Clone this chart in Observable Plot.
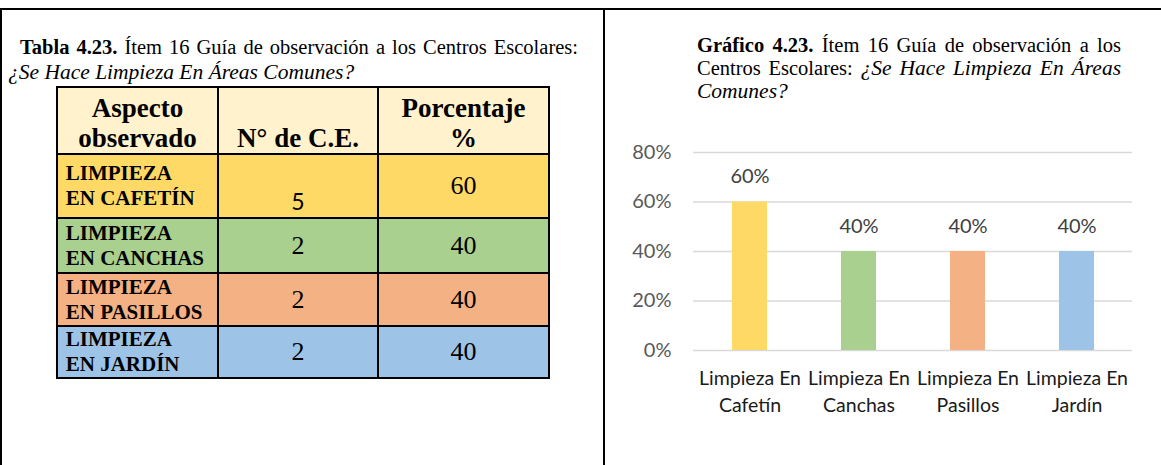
<!DOCTYPE html>
<html>
<head>
<meta charset="utf-8">
<script src="https://cdn.jsdelivr.net/npm/d3@7"></script>
<script src="https://cdn.jsdelivr.net/npm/@observablehq/plot@0.6"></script>
<style>
  html, body { margin: 0; padding: 0; background: #fff; }
  #page { position: relative; width: 1161px; height: 465px; overflow: hidden; background: #fff; }
  .line { position: absolute; background: #000; }
  .t { position: absolute; font-family: "Liberation Serif", "Times New Roman", serif; font-size: 20.5px; line-height: 24px; color: #000; white-space: nowrap; }
  .t i { font-size: 21.5px; }
  .j { text-align: justify; text-align-last: justify; white-space: normal; }
  .cell { position: absolute; box-sizing: border-box; border: 2.5px solid #000; display: flex; font-family: "Liberation Serif", "Times New Roman", serif; color: #000; }
  .hdr { background: #FFF2CC; font-weight: bold; font-size: 27px; line-height: 30px; justify-content: center; align-items: flex-end; text-align: center; }
  .lab { font-weight: bold; font-size: 21px; line-height: 25px; align-items: center; padding-left: 8px; }
  .num { font-size: 26px; justify-content: center; align-items: center; }
  #chart { position: absolute; left: 605px; top: 130px; }
</style>
</head>
<body>
<div id="page">
  <div class="line" style="left:0;top:8px;width:1161px;height:2px;"></div>
  <div class="line" style="left:0;top:8px;width:2px;height:457px;"></div>
  <div class="line" style="left:603px;top:8px;width:2px;height:457px;"></div>

  <div class="t j" style="left:20px;top:35px;width:558px;"><b>Tabla 4.23.</b> Ítem 16 Guía de observación a los Centros Escolares:</div>
  <div class="t" style="left:8px;top:60px;"><i>¿Se Hace Limpieza En Áreas Comunes?</i></div>

  <div class="t j" style="left:697px;top:33px;width:424px;"><b>Gráfico 4.23.</b> Ítem 16 Guía de observación a los</div>
  <div class="t j" style="left:697px;top:56px;width:424px;">Centros Escolares: <i>¿Se Hace Limpieza En Áreas</i></div>
  <div class="t" style="left:697px;top:79px;"><i>Comunes?</i></div>

  <div id="table"></div>
  <div id="chart"></div>
</div>
<script>
// ---- data ----
const categories = ["Limpieza En Cafetín", "Limpieza En Canchas", "Limpieza En Pasillos", "Limpieza En Jardín"];
const counts = [5, 2, 2, 2];
const percentages = [60, 40, 40, 40];
const yTicks = [0, 20, 40, 60, 80];
const headers = ["Aspecto\nobservado", "N° de C.E.", "Porcentaje\n%"];
const palette = ["#FFD966", "#A9D08E", "#F4B183", "#9DC3E6"];

// ---- table ----
const colEdges = [57, 218, 378, 549];
const rowEdges = [87, 154, 218, 273, 326, 378];
const bw = 2.5;
const tableEl = document.getElementById("table");
function addCell(r, c, cls, html, bg, extra) {
  const d = document.createElement("div");
  d.className = "cell " + cls;
  d.style.left = (colEdges[c] - bw / 2) + "px";
  d.style.top = (rowEdges[r] - bw / 2) + "px";
  d.style.width = (colEdges[c + 1] - colEdges[c] + bw) + "px";
  d.style.height = (rowEdges[r + 1] - rowEdges[r] + bw) + "px";
  if (bg) d.style.background = bg;
  if (extra) Object.assign(d.style, extra);
  d.innerHTML = "<div>" + html + "</div>";
  tableEl.appendChild(d);
}
headers.forEach((h, c) => addCell(0, c, "hdr", h.replace("\n", "<br>"), null));
categories.forEach((cat, i) => {
  const up = cat.toUpperCase();
  const k = up.indexOf(" ");
  addCell(i + 1, 0, "lab", up.slice(0, k) + "<br>" + up.slice(k + 1), palette[i]);
  if (i === 0) {
    addCell(i + 1, 1, "num", String(counts[i]), palette[i],
      {fontFamily: "Lato, sans-serif", fontSize: "23px", alignItems: "flex-end", paddingBottom: "2px"});
  } else {
    addCell(i + 1, 1, "num", String(counts[i]), palette[i]);
  }
  addCell(i + 1, 2, "num", String(percentages[i]), palette[i]);
});

// ---- chart ----
const data = categories.map((c, i) => ({category: c, value: percentages[i]}));
const pct = d => d + "%";
const chart = Plot.plot({
  width: 556,
  height: 300,
  marginLeft: 88,
  marginRight: 29,
  marginTop: 22,
  marginBottom: 80,
  style: {fontFamily: "Lato, sans-serif", fontSize: "20px", color: "#595959", background: "transparent", overflow: "visible"},
  x: {domain: categories, paddingInner: 0.68, paddingOuter: 0.34, label: null},
  y: {domain: [0, 80], label: null},
  color: {domain: categories, range: palette},
  marks: [
    Plot.gridY(yTicks, {stroke: "#D9D9D9", strokeOpacity: 1, strokeWidth: 1.5}),
    Plot.barY(data, {x: "category", y: "value", fill: "category"}),
    Plot.text(data, {x: "category", y: "value", text: d => pct(d.value), dy: -25, fill: "#404040", fontSize: 20}),
    Plot.axisY({ticks: yTicks, tickSize: 0, tickPadding: 22, tickFormat: pct, fill: "#595959", fontSize: 20, label: null}),
    Plot.axisX({tickSize: 0, tickPadding: 15, tickFormat: d => d.replace(" En ", " En\n"), lineHeight: 1.4, fill: "#1a1a1a", fontSize: 19.5, label: null})
  ]
});
document.getElementById("chart").appendChild(chart);
</script>
</body>
</html>
